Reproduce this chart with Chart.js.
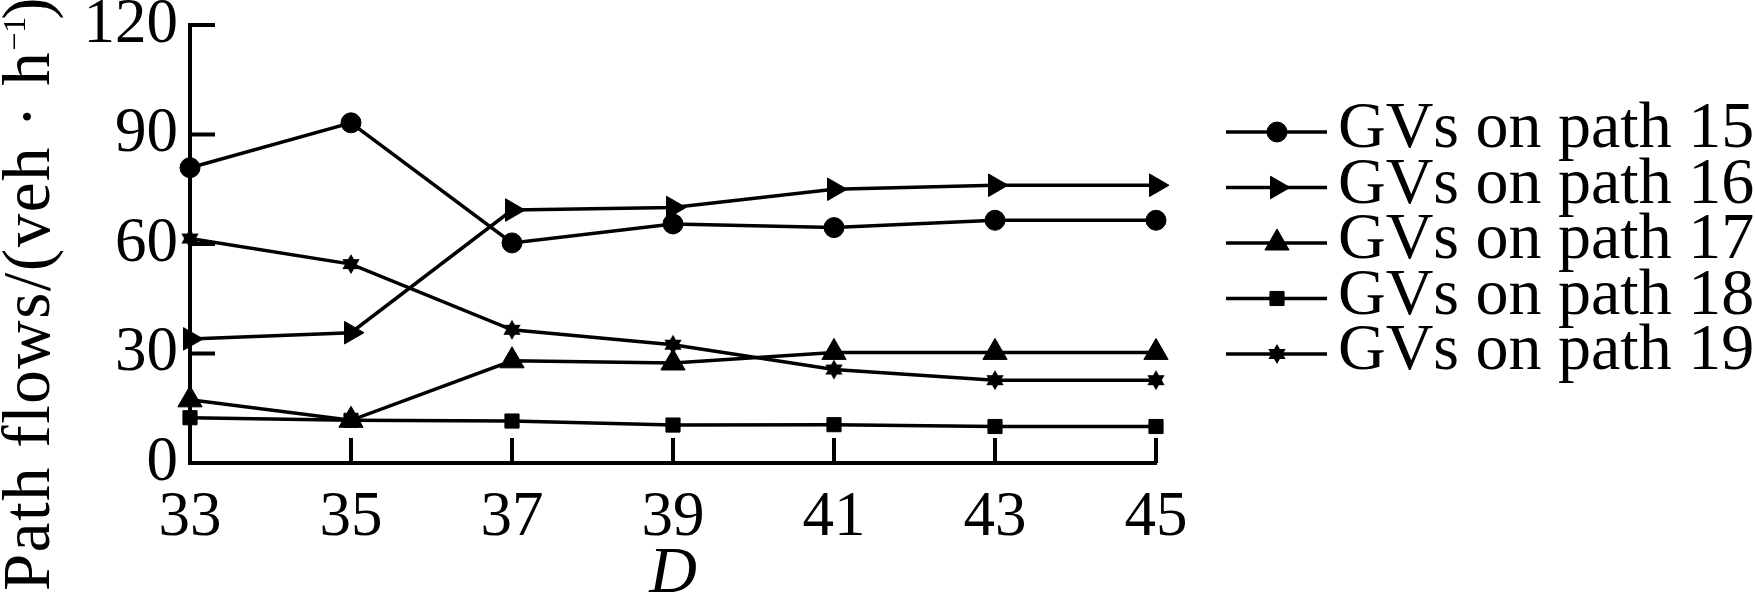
<!DOCTYPE html>
<html>
<head>
<meta charset="utf-8">
<script src="https://cdn.jsdelivr.net/npm/chart.js@4.4.0/dist/chart.umd.min.js"></script>
<style>
  html, body { margin: 0; padding: 0; background: #fff; }
  #wrap { width: 1755px; height: 598px; position: relative; }
</style>
</head>
<body>
<div id="wrap"><canvas id="flow-chart"></canvas></div>
<script>
// D values on the x axis
var dValues = ['33', '35', '37', '39', '41', '43', '45'];
var yTicks = [0, 30, 60, 90, 120];

// path flows (veh/h)
var path15 = [80.9, 93.2, 60.3, 65.5, 64.5, 66.5, 66.5];
var path16 = [34.0, 35.7, 69.3, 70.0, 75.0, 76.1, 76.1];
var path17 = [17.3, 11.7, 28.0, 27.4, 30.3, 30.3, 30.3];
var path18 = [12.4, 11.7, 11.5, 10.4, 10.5, 10.0, 10.0];
var path19 = [61.5, 54.5, 36.5, 32.4, 25.6, 22.7, 22.7];

var seriesNames = ['GVs on path 15', 'GVs on path 16', 'GVs on path 17', 'GVs on path 18', 'GVs on path 19'];
var yTitleMain = 'Path flows/(veh \u00b7 h';
var yTitleSup = '\u22121';
var serif = '"Liberation Serif", "Times New Roman", serif';

// filled six-pointed star used as a marker
function makeStar(r) {
  var s = Math.ceil(r * 2 + 2);
  var c = document.createElement('canvas');
  c.width = s; c.height = s;
  var g = c.getContext('2d');
  g.fillStyle = '#000';
  var starts = [-90, 90];
  for (var j = 0; j < starts.length; j++) {
    g.beginPath();
    for (var k = 0; k < 3; k++) {
      var a = (starts[j] + k * 120) * Math.PI / 180;
      var px = s / 2 + r * Math.cos(a), py = s / 2 + r * Math.sin(a);
      if (k) g.lineTo(px, py); else g.moveTo(px, py);
    }
    g.closePath();
    g.fill();
  }
  return c;
}
var starMark = makeStar(10);

function series(label, values, style, radius, rotation) {
  return {
    label: label, data: values,
    borderColor: '#000', backgroundColor: '#000', borderWidth: 3.5,
    pointStyle: style, pointRadius: radius, pointRotation: rotation || 0,
    pointBackgroundColor: '#000', pointBorderColor: '#000', pointBorderWidth: 1,
    tension: 0, clip: false
  };
}

// tick marks pointing into the plot
var inwardTicks = {
  id: 'inwardTicks',
  beforeDatasetsDraw: function (chart) {
    var ctx = chart.ctx, xs = chart.scales.x, ys = chart.scales.y, len = 25;
    ctx.save();
    ctx.strokeStyle = '#000'; ctx.lineWidth = 4;
    ctx.beginPath();
    xs.ticks.forEach(function (t, i) {
      if (i === 0) return;
      var px = xs.getPixelForTick(i);
      ctx.moveTo(px, ys.bottom); ctx.lineTo(px, ys.bottom - len);
    });
    ys.ticks.forEach(function (t) {
      if (t.value === 0) return;
      var py = ys.getPixelForValue(t.value);
      ctx.moveTo(xs.left, py); ctx.lineTo(xs.left + len, py);
    });
    ctx.stroke();
    ctx.restore();
  }
};

// legend with a line through each marker
var lineLegend = {
  id: 'lineLegend',
  afterDraw: function (chart) {
    var ctx = chart.ctx;
    ctx.save();
    chart.data.datasets.forEach(function (ds, i) {
      var y = 132 + i * 55.5;
      ctx.strokeStyle = '#000'; ctx.fillStyle = '#000'; ctx.lineWidth = 3.5;
      ctx.beginPath(); ctx.moveTo(1226, y); ctx.lineTo(1327, y); ctx.stroke();
      ctx.lineWidth = 1;
      Chart.helpers.drawPoint(ctx, {pointStyle: ds.pointStyle, rotation: ds.pointRotation, radius: ds.pointRadius, borderWidth: 1}, 1277, y);
      ctx.font = '66px ' + serif;
      ctx.textBaseline = 'alphabetic'; ctx.textAlign = 'left';
      ctx.fillText(ds.label, 1338, y + 15);
    });
    ctx.restore();
  }
};

// rotated y title with superscript
var yTitle = {
  id: 'yTitle',
  afterDraw: function (chart) {
    var ctx = chart.ctx;
    var spaced = 'letterSpacing' in ctx;
    ctx.save();
    ctx.translate(49, 591);
    ctx.rotate(-Math.PI / 2);
    ctx.fillStyle = '#000';
    ctx.textBaseline = 'alphabetic'; ctx.textAlign = 'left';
    if (spaced) ctx.letterSpacing = '1.5px';
    ctx.font = '67px ' + serif;
    ctx.fillText(yTitleMain, 0, 0);
    var w = ctx.measureText(yTitleMain).width;
    if (spaced) ctx.letterSpacing = '0px';
    ctx.font = '32px ' + serif;
    ctx.fillText(yTitleSup, w, -24);
    w += ctx.measureText(yTitleSup).width - 3;
    ctx.font = '67px ' + serif;
    ctx.fillText(')', w, 0);
    ctx.restore();
  }
};

var flowChart = new Chart(document.getElementById('flow-chart'), {
  type: 'line',
  data: {
    labels: dValues,
    datasets: [
      series(seriesNames[0], path15, 'circle', 10),
      series(seriesNames[1], path16, 'triangle', 13, 90),
      series(seriesNames[2], path17, 'triangle', 14),
      series(seriesNames[3], path18, 'rect', 10),
      series(seriesNames[4], path19, starMark, 10)
    ]
  },
  options: {
    responsive: true, maintainAspectRatio: false, animation: false, events: [],
    devicePixelRatio: 1,
    layout: {padding: {left: 0, right: 599, top: 25, bottom: 0}},
    plugins: {legend: {display: false}, tooltip: {enabled: false}},
    scales: {
      x: {
        type: 'category', offset: false,
        grid: {drawOnChartArea: false, drawTicks: false, color: 'rgba(0,0,0,0)'},
        border: {display: true, color: '#000', width: 4},
        ticks: {color: '#000', padding: 18, maxRotation: 0, autoSkip: false, font: {family: serif, size: 63}},
        title: {display: true, text: 'D', color: '#000', padding: 0, font: {family: serif, size: 66, style: 'italic', lineHeight: 0.7}},
        afterFit: function (s) { s.height = 135; s.paddingLeft = 0; s.paddingRight = 0; }
      },
      y: {
        min: 0, max: 120,
        afterBuildTicks: function (s) { s.ticks = yTicks.map(function (v) { return {value: v}; }); },
        grid: {drawOnChartArea: false, drawTicks: false, color: 'rgba(0,0,0,0)'},
        border: {display: true, color: '#000', width: 4},
        ticks: {color: '#000', padding: 12, font: {family: serif, size: 63}},
        afterFit: function (s) { s.width = 190; s.paddingTop = 0; s.paddingBottom = 0; }
      }
    }
  },
  plugins: [inwardTicks, lineLegend, yTitle]
});
</script>
</body>
</html>
